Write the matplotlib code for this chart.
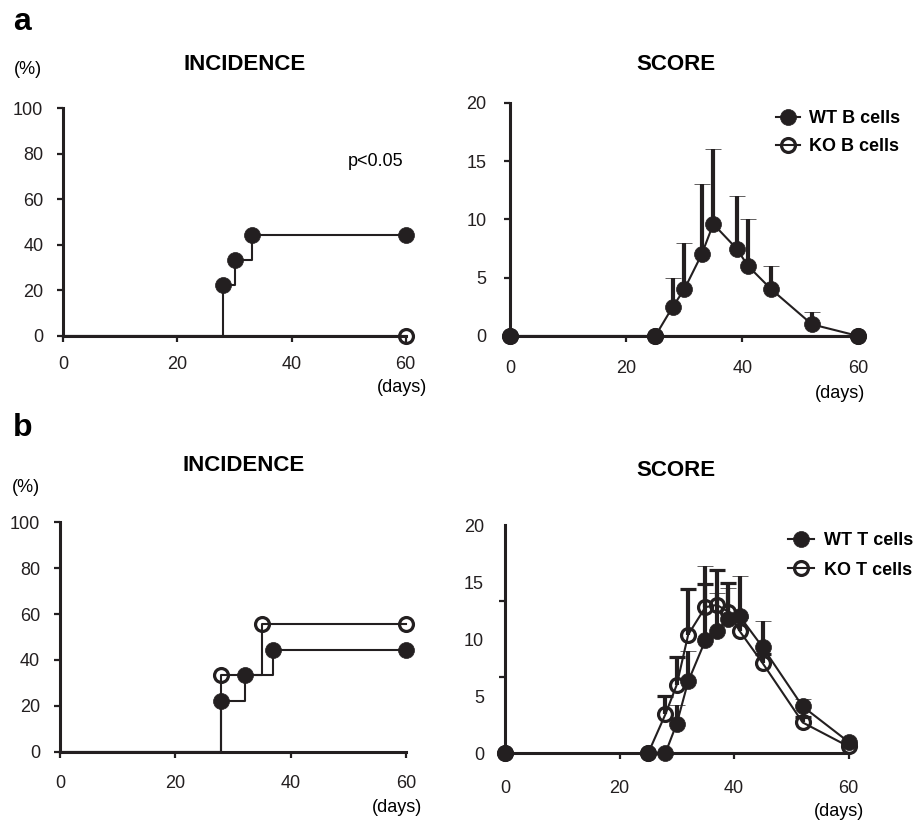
import numpy as np
import matplotlib
matplotlib.use('Agg')
import matplotlib.pyplot as plt

plt.rcParams['font.family'] = ['Liberation Sans', 'DejaVu Sans']

# ---- data ----
# a: B cell transfer, incidence (%)
inc_days_wt_b = [0, 28, 30, 33, 60]
inc_wt_b = [0, 22.2, 33.3, 44.4, 44.4]
inc_days_ko_b = [0, 60]
inc_ko_b = [0, 0]

# a: B cell transfer, clinical score (mean, upper SEM)
score_days_wt_b = [0, 25, 28, 30, 33, 35, 39, 41, 45, 52, 60]
score_wt_b = [0, 0, 2.5, 4.0, 7.0, 9.6, 7.5, 6.0, 4.0, 1.0, 0]
sem_wt_b = [0, 0, 2.5, 4.0, 6.0, 6.4, 4.5, 4.0, 2.0, 1.1, 0]
score_days_ko_b = [0, 25, 60]
score_ko_b = [0, 0, 0]

# b: T cell transfer, incidence (%)
inc_days_wt_t = [0, 28, 32, 37, 60]
inc_wt_t = [0, 22.2, 33.3, 44.4, 44.4]
inc_days_ko_t = [0, 28, 35, 60]
inc_ko_t = [0, 33.3, 55.6, 55.6]

# b: T cell transfer, clinical score
score_days_t = [0, 25, 28, 30, 32, 35, 37, 39, 41, 45, 52, 60]
score_wt_t = [0, 0, 0, 2.6, 6.3, 9.9, 10.7, 11.8, 12.0, 9.3, 4.1, 1.0]
sem_wt_t = [0, 0, 0, 1.6, 2.7, 6.5, 3.3, 2.7, 3.5, 2.3, 0.7, 0]
score_ko_t = [0, 0, 3.4, 6.0, 10.4, 12.8, 13.0, 12.4, 10.7, 7.9, 2.7, 0.6]
sem_ko_t = [0, 0, 1.6, 2.4, 4.0, 2.0, 3.1, 2.5, 1.2, 0.8, 0.5, 0.3]

day_ticks = [0, 20, 40, 60]
inc_ticks = [0, 20, 40, 60, 80, 100]
score_ticks = [0, 5, 10, 15, 20]

W, H = 921, 821
INK = '#231f20'
PT = 72 / 100  # points per pixel at dpi 100

FILLED = dict(marker='o', ms=11.5, mfc=INK, mec=INK, mew=0.5)
OPEN = dict(marker='o', ms=10, mfc='none', mec=INK, mew=2.3)


def rect(x0, x1, y_top, y_bot):
    return [x0 / W, 1 - y_bot / H, (x1 - x0) / W, (y_bot - y_top) / H]


def style_axes(ax, xpad, ypad, ymax):
    for s in ('top', 'right'):
        ax.spines[s].set_visible(False)
    for s in ('left', 'bottom'):
        ax.spines[s].set_linewidth(2.2)
        ax.spines[s].set_color(INK)
    ax.set_xlim(0, 60)
    ax.set_ylim(0, ymax)
    ax.set_xticks(day_ticks)
    ax.tick_params(direction='out', length=6 * PT, width=1.6, color=INK,
                   labelsize=13, labelcolor=INK)
    ax.tick_params(axis='x', pad=xpad * PT)
    ax.tick_params(axis='y', pad=ypad * PT)
    ax.set_facecolor('none')


def incidence(ax, days, vals, mk):
    ax.step(days, vals, where='post', color=INK, lw=1.5, clip_on=False, zorder=3)
    ax.plot(days[1:], vals[1:], ls='none', clip_on=False, zorder=4, **mk)


def score(ax, days, vals, sem, mk):
    sem = np.asarray(sem, dtype=float)
    eb = ax.errorbar(days, vals, yerr=[np.zeros_like(sem), sem],
                     errorevery=sem > 0, color=INK, lw=1.5, elinewidth=3,
                     capsize=5.8, capthick=3, clip_on=False, zorder=3, **mk)
    eb[1][0].set_visible(False)  # upper bars only
    for c in eb[1]:
        c.set_clip_on(False)
    for c in eb[2]:
        c.set_clip_on(False)
    eb[0].set_clip_on(False)
    return eb[0]


fig = plt.figure(figsize=(W / 100, H / 100), dpi=100)

# ---- a, incidence ----
ax1 = fig.add_axes(rect(63.3, 405.7, 108.3, 336))
incidence(ax1, inc_days_ko_b, inc_ko_b, OPEN)
incidence(ax1, inc_days_wt_b, inc_wt_b, FILLED)
style_axes(ax1, 14, 14, 100)
ax1.set_yticks(inc_ticks)
ax1.text(54.8, 76.5, 'p<0.05', fontsize=13, ha='center', va='center')
ax1.annotate('(days)', xy=(60, 0), xycoords=('data', 'axes fraction'),
             xytext=(-4 * PT, -51 * PT), textcoords='offset points',
             ha='center', va='center', fontsize=13)

# ---- a, score ----
ax2 = fig.add_axes(rect(510.3, 858.3, 102.7, 336))
h_ko_b = score(ax2, score_days_ko_b, score_ko_b, np.zeros(len(score_ko_b)), OPEN)
h_wt_b = score(ax2, score_days_wt_b, score_wt_b, sem_wt_b, FILLED)
style_axes(ax2, 18, 18, 20)
ax2.set_yticks(score_ticks)
ax2.annotate('(days)', xy=(60, 0), xycoords=('data', 'axes fraction'),
             xytext=(-18 * PT, -57 * PT), textcoords='offset points',
             ha='center', va='center', fontsize=13)
ax2.legend([h_wt_b, h_ko_b], ['WT B cells', 'KO B cells'], loc='upper left',
           bbox_to_anchor=(776 / W, 1 - 110 / H), bbox_transform=fig.transFigure,
           frameon=False, prop={'weight': 'bold', 'size': 13}, handlelength=1.35,
           handletextpad=0.45, borderpad=0, borderaxespad=0, labelspacing=0.62)

# ---- b, incidence ----
ax3 = fig.add_axes(rect(60, 406, 522.3, 751.7))
incidence(ax3, inc_days_wt_t, inc_wt_t, FILLED)
incidence(ax3, inc_days_ko_t, inc_ko_t, OPEN)
style_axes(ax3, 17, 14, 100)
ax3.set_yticks(inc_ticks)
ax3.annotate('(days)', xy=(60, 0), xycoords=('data', 'axes fraction'),
             xytext=(-9 * PT, -56 * PT), textcoords='offset points',
             ha='center', va='center', fontsize=13)

# ---- b, score ----
ax4 = fig.add_axes(rect(505, 848.5, 525, 753.3))
h_ko_t = score(ax4, score_days_t, score_ko_t, sem_ko_t, OPEN)
h_wt_t = score(ax4, score_days_t, score_wt_t, sem_wt_t, FILLED)
style_axes(ax4, 21, 21, 20)
ax4.set_yticks(score_ticks)
ax4.tick_params(axis='y', which='major', length=0)
ax4.set_yticks([0, 20 / 3, 40 / 3, 20], minor=True)
ax4.tick_params(axis='y', which='minor', direction='out', length=6 * PT,
                width=1.6, color=INK)
ax4.annotate('(days)', xy=(60, 0), xycoords=('data', 'axes fraction'),
             xytext=(-10 * PT, -58 * PT), textcoords='offset points',
             ha='center', va='center', fontsize=13)
ax4.legend([h_wt_t, h_ko_t], ['WT T cells', 'KO T cells'], loc='upper left',
           bbox_to_anchor=(788 / W, 1 - 532 / H), bbox_transform=fig.transFigure,
           frameon=False, prop={'weight': 'bold', 'size': 13}, handlelength=1.45,
           handletextpad=0.55, borderpad=0, borderaxespad=0, labelspacing=0.7)

# ---- panel letters, titles, units ----
fig.text(13 / W, 1 - 30 / H, 'a', fontsize=23, fontweight='bold', va='baseline')
fig.text(13 / W, 1 - 436 / H, 'b', fontsize=23, fontweight='bold', va='baseline')
for x, y, s in [(245, 64.7, 'INCIDENCE'), (676, 64.7, 'SCORE'),
                (244, 465, 'INCIDENCE'), (676, 470, 'SCORE')]:
    fig.text(x / W, 1 - y / H, s, fontsize=16, fontweight='bold',
             ha='center', va='center')
fig.text(28 / W, 1 - 69 / H, '(%)', fontsize=13, ha='center', va='center')
fig.text(26 / W, 1 - 487 / H, '(%)', fontsize=13, ha='center', va='center')

fig.savefig('out.png', dpi=100, facecolor='white')
